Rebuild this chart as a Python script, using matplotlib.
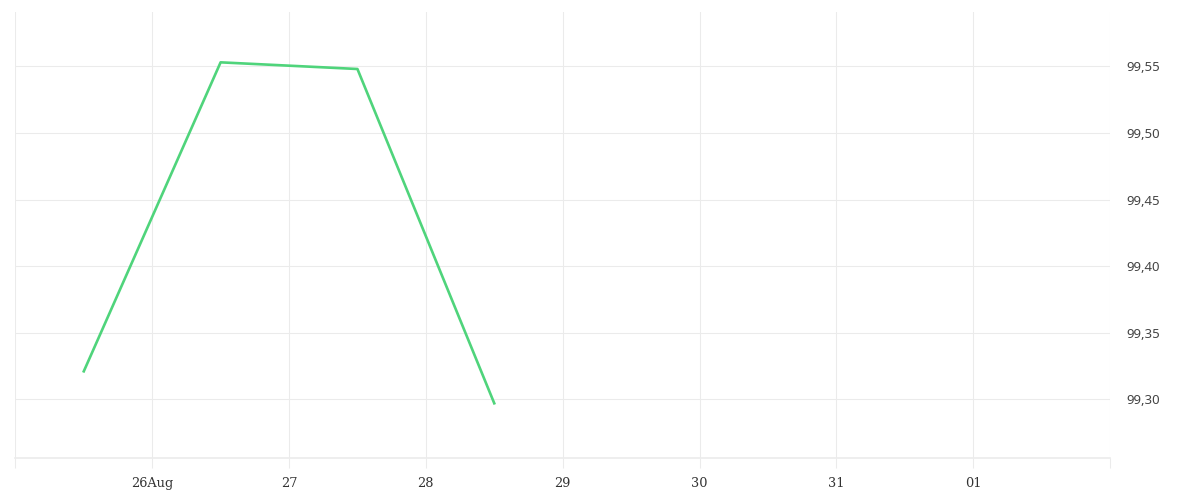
import matplotlib
matplotlib.use("Agg")
import matplotlib.pyplot as plt
import pandas as pd

# data
times = pd.to_datetime(["2024-08-25 12:00", "2024-08-26 12:00",
                        "2024-08-27 12:00", "2024-08-28 12:00"])
values = [99.321, 99.553, 99.548, 99.297]

tick_days = pd.date_range("2024-08-25", "2024-09-02", freq="D")
tick_labels = ["", "26Aug", "27", "28", "29", "30", "31", "01", ""]
y_ticks = [99.30, 99.35, 99.40, 99.45, 99.50, 99.55]

grid_col = "#ebebeb"

fig = plt.figure(figsize=(12, 5), dpi=100)
ax = fig.add_axes([0.0128, 0.0834, 0.9122, 0.8926])

ax.plot(times, values, color="#4fd47b", linewidth=1.9, zorder=3)

ax.set_xlim(tick_days[0], tick_days[-1])
ax.set_ylim(99.2557, 99.5908)

ax.set_xticks(tick_days)
ax.set_xticklabels(tick_labels, fontfamily="DejaVu Serif", fontsize=9.3, color="#333333")
ax.tick_params(axis="x", length=7.5, width=0.75, color=grid_col, pad=6)

ax.yaxis.tick_right()
ax.set_yticks(y_ticks)
ax.set_yticklabels([f"{v:.2f}".replace(".", ",") for v in y_ticks],
                   fontfamily="Noto Sans", fontsize=9.5, color="#444444")
ax.tick_params(axis="y", length=0, pad=12)

ax.grid(True, color=grid_col, linewidth=0.75)
ax.set_axisbelow(True)

for side in ["top", "left", "right"]:
    ax.spines[side].set_visible(False)
ax.spines["bottom"].set_color(grid_col)
ax.spines["bottom"].set_linewidth(1.2)

fig.savefig("out.png", dpi=100)
